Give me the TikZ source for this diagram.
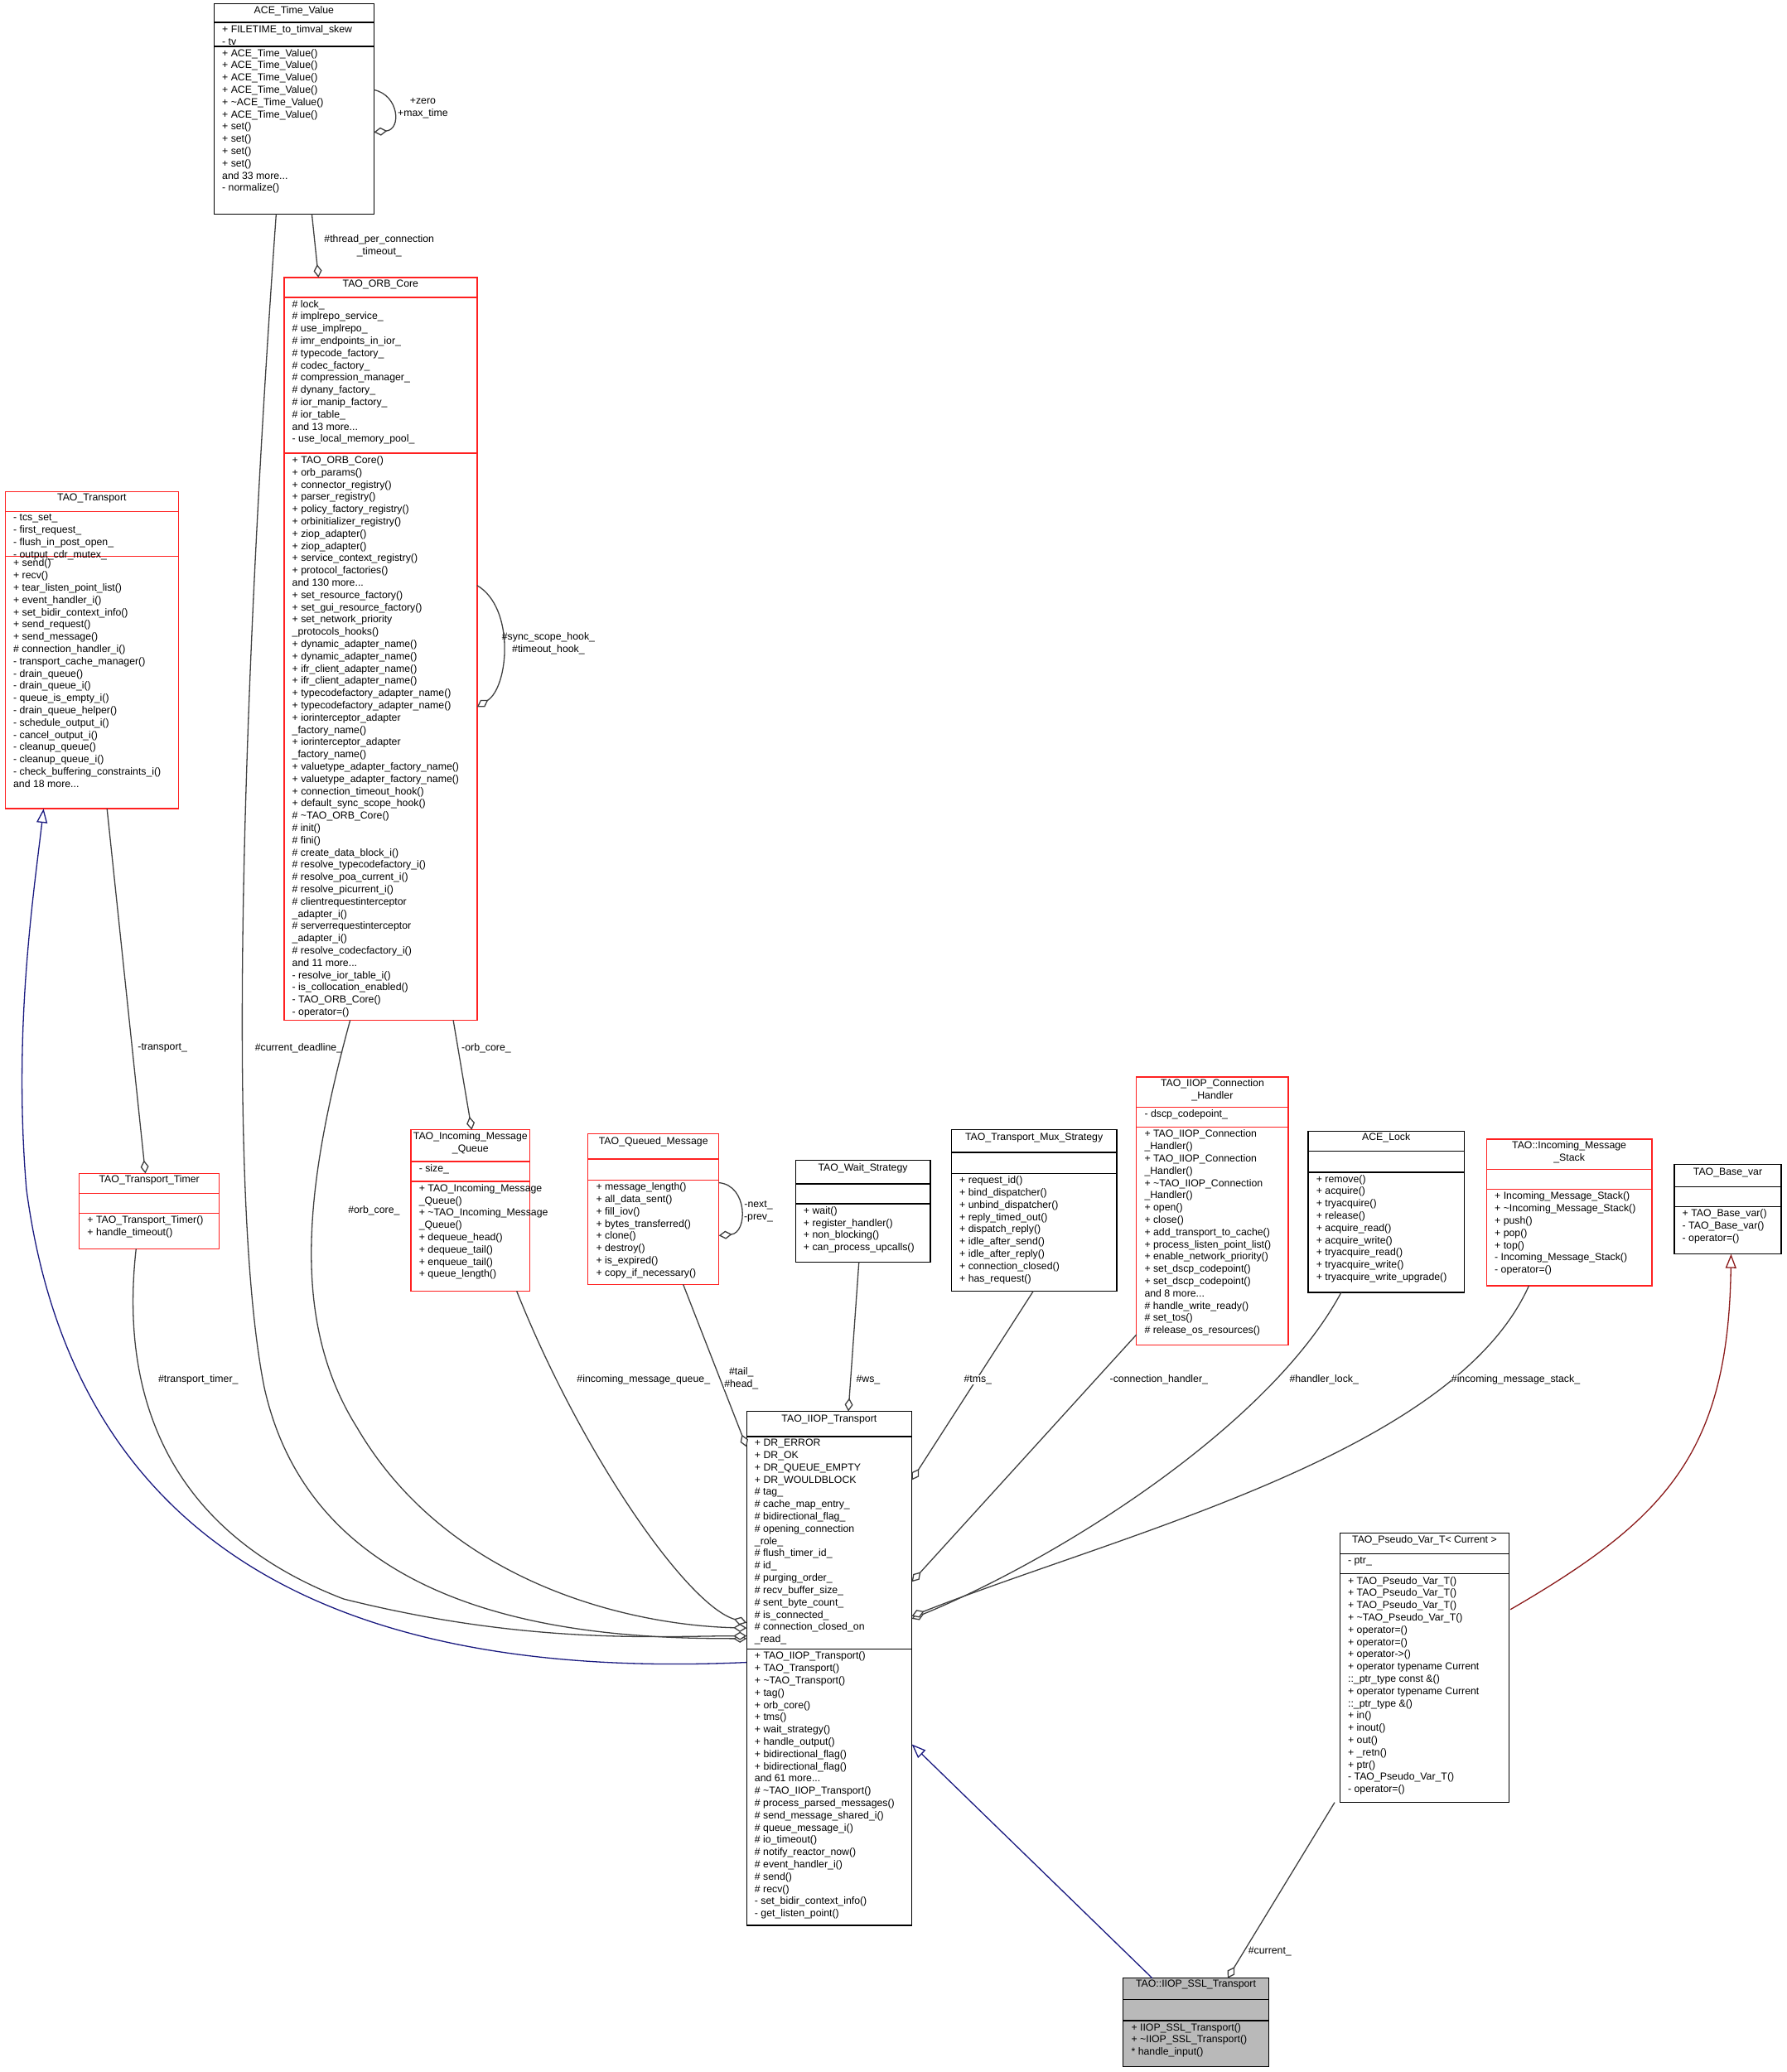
\documentclass[tikz,border=0pt]{standalone}
\usepackage{fontspec}
\setmainfont{Liberation Sans}
\usetikzlibrary{arrows.meta,fit,calc}
\catcode`\_=12
\definecolor{redb}{HTML}{FF2020}
\definecolor{lin}{HTML}{404040}
\definecolor{navy}{HTML}{1A1A80}
\definecolor{dred}{HTML}{8B1A1A}
\tikzset{
 boxline/.style={line width=1.4pt},
 lst/.style={anchor=north west,inner sep=0,align=left,font=\fontsize{12.3}{14.8}\selectfont},
 ttl/.style={anchor=north,inner sep=0,align=center,font=\fontsize{12.3}{14.8}\selectfont},
 lbl/.style={inner sep=0,align=center,font=\fontsize{12.3}{14.8}\selectfont},
 assoc/.style={lin,line width=1.3pt,-{Diamond[open,fill=white,length=16pt,width=10pt]}},
 gen/.style={navy,line width=1.3pt,-{Triangle[open,fill=white,length=17pt,width=13pt]}},
}
\newcommand\cls[8]{%
 \path (#3,#4) coordinate (#1-nw) (#5,#8) coordinate (#1-se);
 \node[fit=(#1-nw)(#1-se),inner sep=0,draw=#2,boxline] (#1) {};
 \draw[#2,boxline] (#3,#6) -- (#5,#6) (#3,#7) -- (#5,#7);}
\newcommand\ttl[3]{\node[ttl] at (#1.north |- 0,#2) {#3};}
\newcommand\lst[3]{\node[lst] at (#1,#2) {#3};}
\begin{document}
\begin{tikzpicture}[x=1.595pt,y=-1.595pt]
\useasboundingbox (0,0) rectangle (1352.3,1568);
% SSL fill first
\fill[gray!55] (850,1497) rectangle (960,1564);
% boxes
\cls{atv}{black}{162}{3}{283}{17}{35}{162}
\ttl{atv}{4.5}{ACE_Time_Value}
\lst{168}{19}{+ FILETIME_to_timval_skew\\- tv_}
\lst{168}{37}{+ ACE_Time_Value()\\+ ACE_Time_Value()\\+ ACE_Time_Value()\\+ ACE_Time_Value()\\+ \textasciitilde ACE_Time_Value()\\+ ACE_Time_Value()\\+ set()\\+ set()\\+ set()\\+ set()\\and 33 more...\\- normalize()}

\cls{orb}{redb}{215}{210}{361}{225}{343}{772}
\ttl{orb}{211.5}{TAO_ORB_Core}
\lst{221}{227}{\# lock_\\\# implrepo_service_\\\# use_implrepo_\\\# imr_endpoints_in_ior_\\\# typecode_factory_\\\# codec_factory_\\\# compression_manager_\\\# dynany_factory_\\\# ior_manip_factory_\\\# ior_table_\\and 13 more...\\- use_local_memory_pool_}
\lst{221}{345}{+ TAO_ORB_Core()\\+ orb_params()\\+ connector_registry()\\+ parser_registry()\\+ policy_factory_registry()\\+ orbinitializer_registry()\\+ ziop_adapter()\\+ ziop_adapter()\\+ service_context_registry()\\+ protocol_factories()\\and 130 more...\\+ set_resource_factory()\\+ set_gui_resource_factory()\\+ set_network_priority\\_protocols_hooks()\\+ dynamic_adapter_name()\\+ dynamic_adapter_name()\\+ ifr_client_adapter_name()\\+ ifr_client_adapter_name()\\+ typecodefactory_adapter_name()\\+ typecodefactory_adapter_name()\\+ iorinterceptor_adapter\\_factory_name()\\+ iorinterceptor_adapter\\_factory_name()\\+ valuetype_adapter_factory_name()\\+ valuetype_adapter_factory_name()\\+ connection_timeout_hook()\\+ default_sync_scope_hook()\\\# \textasciitilde TAO_ORB_Core()\\\# init()\\\# fini()\\\# create_data_block_i()\\\# resolve_typecodefactory_i()\\\# resolve_poa_current_i()\\\# resolve_picurrent_i()\\\# clientrequestinterceptor\\_adapter_i()\\\# serverrequestinterceptor\\_adapter_i()\\\# resolve_codecfactory_i()\\and 11 more...\\- resolve_ior_table_i()\\- is_collocation_enabled()\\- TAO_ORB_Core()\\- operator=()}

\cls{tt}{redb}{4}{372}{135}{387}{421}{612}
\ttl{tt}{373.5}{TAO_Transport}
\lst{10}{389}{- tcs_set_\\- first_request_\\- flush_in_post_open_\\- output_cdr_mutex_}
\lst{10}{423}{+ send()\\+ recv()\\+ tear_listen_point_list()\\+ event_handler_i()\\+ set_bidir_context_info()\\+ send_request()\\+ send_message()\\\# connection_handler_i()\\- transport_cache_manager()\\- drain_queue()\\- drain_queue_i()\\- queue_is_empty_i()\\- drain_queue_helper()\\- schedule_output_i()\\- cancel_output_i()\\- cleanup_queue()\\- cleanup_queue_i()\\- check_buffering_constraints_i()\\and 18 more...}

\cls{ttm}{redb}{60}{888}{166}{903}{918}{945}
\ttl{ttm}{889.5}{TAO_Transport_Timer}
\lst{66}{920}{+ TAO_Transport_Timer()\\+ handle_timeout()}

\cls{imq}{redb}{311}{855}{401}{879}{894}{977}
\ttl{imq}{856.5}{TAO_Incoming_Message\\_Queue}
\lst{317}{881}{- size_}
\lst{317}{896}{+ TAO_Incoming_Message\\_Queue()\\+ \textasciitilde TAO_Incoming_Message\\_Queue()\\+ dequeue_head()\\+ dequeue_tail()\\+ enqueue_tail()\\+ queue_length()}

\cls{qm}{redb}{445}{858}{544}{877}{893}{972}
\ttl{qm}{860.5}{TAO_Queued_Message}
\lst{451}{895}{+ message_length()\\+ all_data_sent()\\+ fill_iov()\\+ bytes_transferred()\\+ clone()\\+ destroy()\\+ is_expired()\\+ copy_if_necessary()}

\cls{ws}{black}{602}{878}{704}{896}{911}{955}
\ttl{ws}{880.5}{TAO_Wait_Strategy}
\lst{608}{913}{+ wait()\\+ register_handler()\\+ non_blocking()\\+ can_process_upcalls()}

\cls{tms}{black}{720}{855}{845}{872}{888}{977}
\ttl{tms}{857.5}{TAO_Transport_Mux_Strategy}
\lst{726}{890}{+ request_id()\\+ bind_dispatcher()\\+ unbind_dispatcher()\\+ reply_timed_out()\\+ dispatch_reply()\\+ idle_after_send()\\+ idle_after_reply()\\+ connection_closed()\\+ has_request()}

\cls{ch}{redb}{860}{815}{975}{838}{853}{1018}
\ttl{ch}{816.5}{TAO_IIOP_Connection\\_Handler}
\lst{866}{840}{- dscp_codepoint_}
\lst{866}{855}{+ TAO_IIOP_Connection\\_Handler()\\+ TAO_IIOP_Connection\\_Handler()\\+ \textasciitilde TAO_IIOP_Connection\\_Handler()\\+ open()\\+ close()\\+ add_transport_to_cache()\\+ process_listen_point_list()\\+ enable_network_priority()\\+ set_dscp_codepoint()\\+ set_dscp_codepoint()\\and 8 more...\\\# handle_write_ready()\\\# set_tos()\\\# release_os_resources()}

\cls{al}{black}{990}{856}{1108}{871}{887}{978}
\ttl{al}{857.5}{ACE_Lock}
\lst{996}{889}{+ remove()\\+ acquire()\\+ tryacquire()\\+ release()\\+ acquire_read()\\+ acquire_write()\\+ tryacquire_read()\\+ tryacquire_write()\\+ tryacquire_write_upgrade()}

\cls{ims}{redb}{1125}{862}{1250}{885}{900}{973}
\ttl{ims}{863.5}{TAO::Incoming_Message\\_Stack}
\lst{1131}{902}{+ Incoming_Message_Stack()\\+ \textasciitilde Incoming_Message_Stack()\\+ push()\\+ pop()\\+ top()\\- Incoming_Message_Stack()\\- operator=()}

\cls{bv}{black}{1267}{881}{1348}{898}{913}{949}
\ttl{bv}{883.5}{TAO_Base_var}
\lst{1273}{915}{+ TAO_Base_var()\\- TAO_Base_var()\\- operator=()}

\cls{it}{black}{565}{1068}{690}{1087}{1248}{1457}
\ttl{it}{1070.5}{TAO_IIOP_Transport}
\lst{571}{1089}{+ DR_ERROR\\+ DR_OK\\+ DR_QUEUE_EMPTY\\+ DR_WOULDBLOCK\\\# tag_\\\# cache_map_entry_\\\# bidirectional_flag_\\\# opening_connection\\_role_\\\# flush_timer_id_\\\# id_\\\# purging_order_\\\# recv_buffer_size_\\\# sent_byte_count_\\\# is_connected_\\\# connection_closed_on\\_read_}
\lst{571}{1250}{+ TAO_IIOP_Transport()\\+ TAO_Transport()\\+ \textasciitilde TAO_Transport()\\+ tag()\\+ orb_core()\\+ tms()\\+ wait_strategy()\\+ handle_output()\\+ bidirectional_flag()\\+ bidirectional_flag()\\and 61 more...\\\# \textasciitilde TAO_IIOP_Transport()\\\# process_parsed_messages()\\\# send_message_shared_i()\\\# queue_message_i()\\\# io_timeout()\\\# notify_reactor_now()\\\# event_handler_i()\\\# send()\\\# recv()\\- set_bidir_context_info()\\- get_listen_point()}

\cls{pv}{black}{1014}{1160}{1142}{1176}{1191}{1364}
\ttl{pv}{1162}{TAO_Pseudo_Var_T< Current >}
\lst{1020}{1178}{- ptr_}
\lst{1020}{1193}{+ TAO_Pseudo_Var_T()\\+ TAO_Pseudo_Var_T()\\+ TAO_Pseudo_Var_T()\\+ \textasciitilde TAO_Pseudo_Var_T()\\+ operator=()\\+ operator=()\\+ operator->()\\+ operator typename Current\\::_ptr_type const \&()\\+ operator typename Current\\::_ptr_type \&()\\+ in()\\+ inout()\\+ out()\\+ _retn()\\+ ptr()\\- TAO_Pseudo_Var_T()\\- operator=()}

\cls{ssl}{black}{850}{1497}{960}{1513}{1529}{1564}
\ttl{ssl}{1498.5}{TAO::IIOP_SSL_Transport}
\lst{856}{1531}{+ IIOP_SSL_Transport()\\+ \textasciitilde IIOP_SSL_Transport()\\* handle_input()}

% connectors
\draw[assoc] (283,68) .. controls (302,72) and (304,98) .. (283,100);
\node[lbl] at (320,82) {+zero\\+max_time};
\draw[assoc] (236,162) -- (241,210);
\node[lbl] at (287,186) {\#thread_per_connection\\_timeout_};
\draw[assoc] (361,443) .. controls (390,460) and (385,520) .. (361,535);
\node[lbl] at (415,487) {\#sync_scope_hook_\\\#timeout_hook_};
\draw[assoc] (209,162) .. controls (185,500) and (170,900) .. (200,1050) .. controls (240,1230) and (450,1240) .. (565,1240);
\node[lbl,fill=white] at (226,793) {\#current_deadline_};
\draw[assoc] (265,772) .. controls (230,900) and (220,1000) .. (270,1080) .. controls (340,1200) and (480,1230) .. (565,1232);
\node[lbl,fill=white] at (283,916) {\#orb_core_};
\draw[gen] (565,1258) .. controls (300,1270) and (60,1200) .. (20,900) .. controls (10,780) and (25,680) .. (33,612);
\draw[assoc] (81,612) -- (110,888);
\node[lbl,fill=white] at (123,793) {-transport_};
\draw[assoc] (103,945) .. controls (90,1060) and (130,1160) .. (260,1210) .. controls (400,1245) and (500,1238) .. (565,1238);
\node[lbl,fill=white] at (150,1044) {\#transport_timer_};
\draw[assoc] (343,772) -- (357,855);
\node[lbl,fill=white] at (368,793) {-orb_core_};
\draw[assoc] (391,977) .. controls (440,1100) and (520,1215) .. (565,1228);
\node[lbl,fill=white] at (487,1044) {\#incoming_message_queue_};
\draw[assoc] (544,895) .. controls (566,897) and (566,933) .. (544,935);
\node[lbl] at (574,917) {-next_\\-prev_};
\draw[assoc] (517,972) -- (565,1095);
\node[lbl,fill=white] at (561,1043) {\#tail_\\\#head_};
\draw[assoc] (650,955) -- (642,1068);
\node[lbl,fill=white] at (657,1044) {\#ws_};
\draw[assoc] (782,977) -- (690,1120);
\node[lbl,fill=white] at (740,1044) {\#tms_};
\draw[assoc] (860,1010) -- (690,1197);
\node[lbl,fill=white] at (877,1044) {-connection_handler_};
\draw[assoc] (1015,978) .. controls (960,1080) and (800,1180) .. (690,1225);
\node[lbl,fill=white] at (1002,1044) {\#handler_lock_};
\draw[assoc] (1157,973) .. controls (1100,1100) and (850,1160) .. (690,1223);
\node[lbl,fill=white] at (1147,1044) {\#incoming_message_stack_};
\draw[gen,dred] (1143,1218) .. controls (1260,1150) and (1308,1100) .. (1310,949);
\draw[gen] (872,1497) -- (690,1320);
\draw[assoc] (1010,1364) -- (929,1497);
\node[lbl] at (961,1477) {\#current_};
\end{tikzpicture}
\end{document}
